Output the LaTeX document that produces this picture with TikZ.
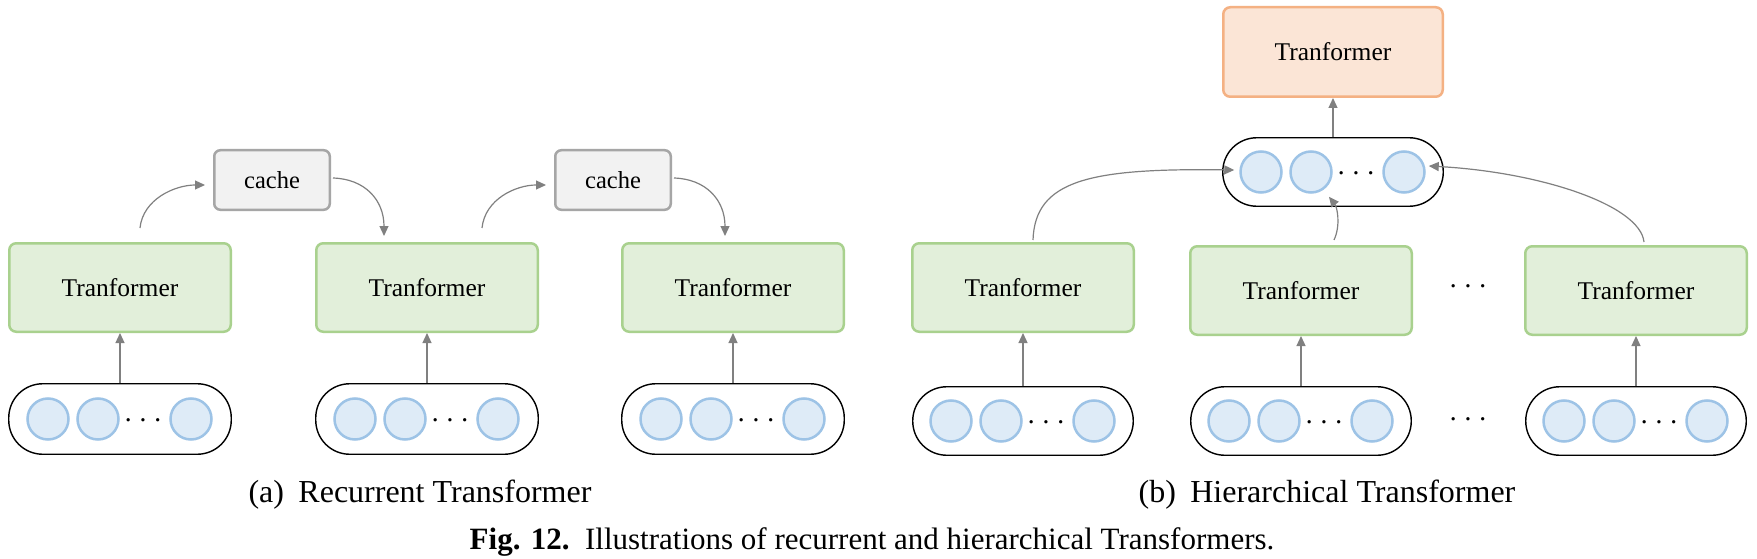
\documentclass[tikz,border=0pt]{standalone}
\usepackage{fontspec}
\setmainfont{Liberation Serif}
\usetikzlibrary{arrows.meta,calc}
\definecolor{gfill}{HTML}{E2EFDA}
\definecolor{gdraw}{HTML}{A9D18E}
\definecolor{cfill}{HTML}{F2F2F2}
\definecolor{cdraw}{HTML}{A6A6A6}
\definecolor{ofill}{HTML}{FBE5D6}
\definecolor{odraw}{HTML}{F4B183}
\definecolor{bfill}{HTML}{DEEBF7}
\definecolor{bdraw}{HTML}{9DC3E6}
\definecolor{agray}{HTML}{808080}
\newcommand{\mypill}[4]{%
  \node[pillbox,#4] (#1) at (#2,#3) {};
  \node[tok] (#1c1) at ($(#1)+(-72,0)$) {};
  \node[tok] (#1c2) at ($(#1)+(-22,0)$) {};
  \node[tok] (#1c3) at ($(#1)+(71,0)$) {};
  \node[dotstxt] (#1d) at ($(#1)+(23,5)$) {·\hspace{5.5pt}·\hspace{5.5pt}·};
}
\begin{document}
\begin{tikzpicture}[x=1pt,y=-1pt,
  tbox/.style={draw=gdraw, fill=gfill, line width=2.5pt, rounded corners=7pt,
    minimum width=221.5pt, minimum height=88.5pt, inner sep=0pt,
    font=\fontsize{25.5}{30}\selectfont},
  obox/.style={tbox, draw=odraw, fill=ofill, minimum width=219.5pt, minimum height=89.5pt},
  cbox/.style={draw=cdraw, fill=cfill, line width=2.5pt, rounded corners=6pt,
    minimum width=115.5pt, minimum height=59.5pt, inner sep=0pt,
    font=\fontsize{24.5}{28}\selectfont},
  pillbox/.style={draw=black, fill=white, line width=1.4pt, rounded corners=34pt, inner sep=0pt},
  pilla/.style={minimum width=222.5pt, minimum height=70.5pt},
  pillb/.style={minimum width=220.5pt, minimum height=68.5pt},
  tok/.style={circle, draw=bdraw, fill=bfill, line width=2.5pt, minimum size=41pt, inner sep=0pt},
  dotstxt/.style={inner sep=0pt, font=\fontsize{28}{30}\selectfont},
  arr/.style={draw=agray, line width=1.2pt, -{Triangle[length=10pt,width=9pt]}},
  captxt/.style={inner sep=0pt, font=\fontsize{32}{36}\selectfont}
]
\path[fill=white,use as bounding box] (0,0) rectangle (1757,559);

% ---------- (a) Recurrent ----------
\node[tbox] (tA1) at (120,287.5) {Tranformer};
\node[tbox] (tA2) at (427,287.5) {Tranformer};
\node[tbox] (tA3) at (733,287.5) {Tranformer};
\node[cbox] (cA1) at (272,180) {cache};
\node[cbox] (cA2) at (613,180) {cache};
\mypill{pA1}{120}{419}{pilla}
\mypill{pA2}{427}{419}{pilla}
\mypill{pA3}{733}{419}{pilla}

\draw[arr] (pA1.north) -- (tA1.south);
\draw[arr] (pA2.north) -- (tA2.south);
\draw[arr] (pA3.north) -- (tA3.south);
\draw[arr] ($(tA1.north)+(20,-14)$) .. controls (143,199) and (175,185) .. ($(cA1.west)+(-8,5)$);
\draw[arr] ($(cA1.east)+(2,-2)$) .. controls (365,179) and (384,200) .. ($(tA2.north)+(-43,-6)$);
\draw[arr] ($(tA2.north)+(55,-14)$) .. controls (485,199) and (516,185) .. ($(cA2.west)+(-8,5)$);
\draw[arr] ($(cA2.east)+(2,-2)$) .. controls (706,179) and (725,200) .. ($(tA3.north)+(-8,-6)$);

% ---------- (b) Hierarchical ----------
\node[obox] (oT) at (1333,52) {Tranformer};
\mypill{pT}{1333}{172}{pillb}
\node[tbox] (tB1) at (1023,287.5) {Tranformer};
\node[tbox] (tB2) at (1301,290.5) {Tranformer};
\node[tbox] (tB3) at (1636,290.5) {Tranformer};
\mypill{pB1}{1023}{421}{pillb}
\mypill{pB2}{1301}{421}{pillb}
\mypill{pB3}{1636}{421}{pillb}
\node[dotstxt] (dB1) at (1468,290) {·\hspace{5.5pt}·\hspace{5.5pt}·};
\node[dotstxt] (dB2) at (1468,423) {·\hspace{5.5pt}·\hspace{5.5pt}·};

\draw[arr] (pT.north) -- (oT.south);
\draw[arr] (pB1.north) -- (tB1.south);
\draw[arr] (pB2.north) -- (tB2.south);
\draw[arr] (pB3.north) -- (tB3.south);
\draw[arr] ($(tB1.north)+(10,-2)$) .. controls (1035,180) and (1090,168) .. ($(pTc1.west)+(-5,-2)$);
\draw[arr] ($(tB2.north)+(33,-5)$) .. controls (1341,225) and (1337,207) .. ($(pTc2.south)+(18,3)$);
\draw[arr] ($(tB3.north)+(8,-3)$) .. controls (1640,205) and (1540,172) .. ($(pTc3.east)+(3,-6)$);

% ---------- captions ----------
\node[captxt] (capa) at (420,495) {(a)\hspace{0.45em}Recurrent Transformer};
\node[captxt] (capb) at (1327,495) {(b)\hspace{0.45em}Hierarchical Transformer};
\node[inner sep=0pt, font=\fontsize{31}{34}\selectfont] (fig) at (872,542)
  {\textbf{Fig. 12.}\hspace{0.5em}Illustrations of recurrent and hierarchical Transformers.};
\end{tikzpicture}
\end{document}
